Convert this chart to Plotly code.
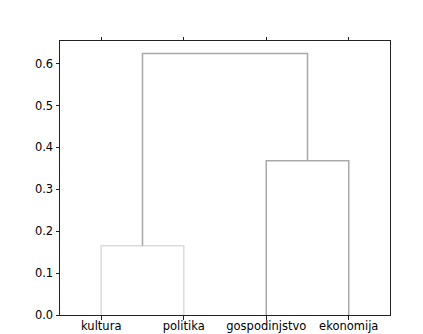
import plotly.graph_objects as go

# Data
leaf_labels = ["kultura", "politika", "gospodinjstvo", "ekonomija"]
# merges: (left child, right child, height); children indices: leaves 0..3, clusters 4..
merge_left = [0, 2, 4]
merge_right = [1, 3, 5]
merge_height = [0.165, 0.368, 0.624]
link_colors = ["#dcdcdc", "#a9a9a9", "#a9a9a9"]
y_ticks = [0, 0.1, 0.2, 0.3, 0.4, 0.5, 0.6]

leaf_pos = [5 + 10 * i for i in range(len(leaf_labels))]

fig = go.Figure()
node_x = {i: leaf_pos[i] for i in range(len(leaf_labels))}
node_y = {i: 0.0 for i in range(len(leaf_labels))}
n = len(leaf_labels)
for k, (a, b, h) in enumerate(zip(merge_left, merge_right, merge_height)):
    xa, ya = node_x[a], node_y[a]
    xb, yb = node_x[b], node_y[b]
    fig.add_trace(go.Scatter(
        x=[xa, xa, xb, xb], y=[ya, h, h, yb], mode="lines",
        line=dict(color=link_colors[k], width=1.5), hoverinfo="skip", showlegend=False))
    node_x[n + k] = (xa + xb) / 2
    node_y[n + k] = h

fig.update_layout(
    width=423, height=334,
    margin=dict(l=60, r=33, t=41, b=19, autoexpand=False),
    paper_bgcolor="white", plot_bgcolor="white",
    font=dict(family="DejaVu Sans", size=11.5, color="black"),
    showlegend=False,
)
fig.update_xaxes(
    range=[0, 10 * n], tickvals=leaf_pos, ticktext=leaf_labels,
    showgrid=False, zeroline=False, showline=True, linecolor="#222", linewidth=1,
    mirror="allticks", ticks="outside", ticklen=3.5, tickcolor="#222",
    automargin=False, ticklabelstandoff=-3,
)
fig.update_yaxes(
    range=[0, 0.654], tickvals=y_ticks,
    tickformat=".1f",
    showgrid=False, zeroline=False, showline=True, linecolor="#222", linewidth=1,
    mirror=True, ticks="outside", ticklen=3.5, tickcolor="#222",
    automargin=False,
)
fig.write_html("out.html", config={"displayModeBar": False},
               post_script="document.body.style.margin='0';")
